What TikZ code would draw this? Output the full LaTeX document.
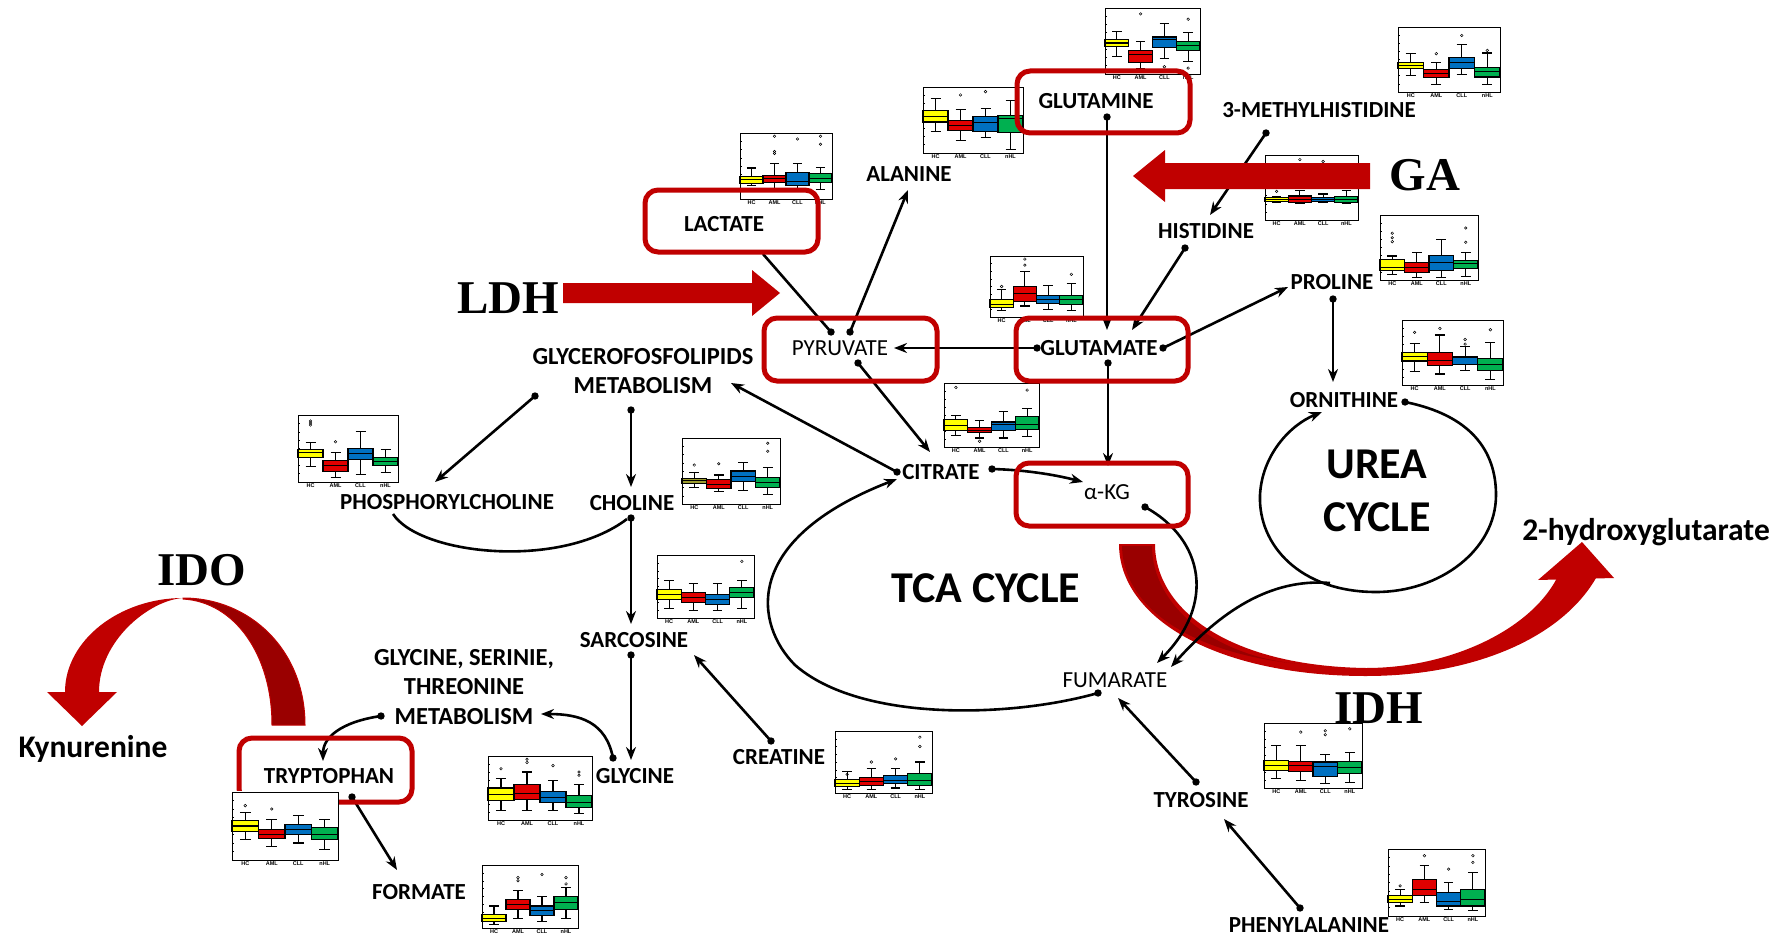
\documentclass[tikz,border=0pt]{standalone}
\usepackage{fontspec}
\setmainfont{Carlito}
\newfontfamily\enzfont{Liberation Serif}
\newfontfamily\plotfont{Liberation Sans}
\usetikzlibrary{arrows.meta}

\definecolor{boxred}{HTML}{C00000}
\definecolor{darkred}{HTML}{9A0000}
\definecolor{byel}{HTML}{FFFF00}
\definecolor{bolive}{HTML}{9C9C30}
\definecolor{bred}{HTML}{E00000}
\definecolor{bblue}{HTML}{0070C0}
\definecolor{bgreen}{HTML}{00B050}

\tikzset{
  lbl/.style={font=\fontsize{23}{29}\selectfont\bfseries, inner sep=0pt, align=center},
  lblm/.style={font=\fontsize{24.5}{29.5}\selectfont\bfseries, inner sep=0pt, align=center},
  lblreg/.style={font=\fontsize{23}{29}\selectfont, inner sep=0pt},
  enz/.style={font=\enzfont\fontsize{47}{50}\selectfont\bfseries, inner sep=0pt},
  cyc/.style={font=\fontsize{44}{53}\selectfont\bfseries, inner sep=0pt, align=center},
  prod/.style={font=\fontsize{31.5}{34}\selectfont\bfseries, inner sep=0pt},
  redbox/.style={draw=boxred, line width=5pt, rounded corners=13pt},
  conn/.style={line width=2.6pt, -{Stealth[length=13pt,width=10pt]}},
  bpframe/.style={line width=0.9pt},
  bpl/.style={line width=1.1pt},
  bplab/.style={font=\plotfont\fontsize{5.5}{6}\selectfont\bfseries, anchor=north, inner sep=0pt, yshift=-1.8pt},
}

% one box: slot, colour, low whisker, q1, median, q3, high whisker
\newcommand\bxp[7]{%
  \draw[bpl] (#1+0.5,#3) -- (#1+0.5,#4) (#1+0.5,#6) -- (#1+0.5,#7);
  \draw[bpl] (#1+0.3,#3) -- (#1+0.7,#3) (#1+0.3,#7) -- (#1+0.7,#7);
  \filldraw[bpl,fill=#2] (#1,#4) rectangle (#1+1,#6);
  \draw[bpl] (#1,#5) -- (#1+1,#5);}
% outlier mark
\newcommand\olr[2]{\draw[line width=0.5pt] (#1,#2) circle[radius=1.3pt];}
% box-plot panel: left, bottom, width, height, boxes
\newcommand\bplot[5]{%
  \pgfmathsetmacro\bpw{#3/4}%
  \begin{scope}[shift={(#1,#2)},x={\bpw pt},y={#4 pt}]
    \fill[white] (-0.15,-0.17) rectangle (4.03,1.02);
    \draw[bpframe] (0,0) rectangle (4,1);
    \foreach \t in {0.125,0.25,...,0.9} \draw[line width=0.5pt] (0,\t) -- (0.07,\t);
    #5
    \foreach \n [count=\i from 0] in {HC,AML,CLL,nHL} \node[bplab] at (\i+0.5,0) {\n};
  \end{scope}}
\newcommand\dotat[1]{\fill (#1) circle[radius=3.7pt];}

\begin{document}
\begin{tikzpicture}[x=1pt,y=-1pt]
\useasboundingbox (0,0) rectangle (1777,939);
\fill[white] (0,0) rectangle (1777,939);

% ---------- IDH ribbon ----------
\fill[boxred] (1119,544) .. controls (1119,620) and (1220,676) .. (1366,676)
  .. controls (1470,676) and (1560,640) .. (1596,578) -- (1557,578)
  .. controls (1530,630) and (1450,668) .. (1366,668)
  .. controls (1230,666) and (1155,610) .. (1155,544) -- cycle;
\fill[boxred] (1538,580) -- (1582,542) -- (1614,578) -- cycle;
\fill[darkred] (1122,546) .. controls (1123,612) and (1200,655) .. (1300,664)
  .. controls (1215,657) and (1152,606) .. (1152,546) -- cycle;

% ---------- IDO ribbon ----------
\fill[boxred] (65,692) .. controls (65,640) and (120,598) .. (183,598)
  .. controls (150,600) and (99,640) .. (99,692) -- cycle;
\fill[boxred] (47,692) -- (117,692) -- (82,726) -- cycle;
\filldraw[fill=darkred, draw=boxred, line width=1pt] (183,598) .. controls (250,598) and (305,650) .. (305,725)
  -- (272,725) .. controls (272,655) and (235,602) .. (183,599) -- cycle;

% ---------- connector end points ----------
\coordinate (glnS) at (1107,117);   \coordinate (gluN) at (1107,330);
\coordinate (mhisS) at (1266,133);  \coordinate (hisN) at (1210,215);
\coordinate (hisS) at (1185,248);   \coordinate (gluNE) at (1132,330);
\coordinate (gluE) at (1163,348);   \coordinate (proW) at (1288,287);
\coordinate (proS) at (1333,299);   \coordinate (ornN) at (1333,382);
\coordinate (gluW) at (1037,348);   \coordinate (pyrE) at (894,348);
\coordinate (gluS) at (1108,363);   \coordinate (akgN) at (1108,466);
\coordinate (pyrNE) at (850,332);   \coordinate (alaS) at (908,190);
\coordinate (pyrN) at (831,332);    \coordinate (lacS) at (763,254);
\coordinate (pyrS) at (858,363);    \coordinate (citN) at (930,452);
\coordinate (citE) at (992,469);    \coordinate (akgW) at (1083,482);
\coordinate (citW) at (897,472);    \coordinate (gplE) at (731,383);
\coordinate (gplSW) at (535,396);   \coordinate (pchN) at (435,482);
\coordinate (gplS) at (631,410);    \coordinate (choN) at (631,487);
\coordinate (pchS) at (393,514);    \coordinate (choSW) at (627,519);
\coordinate (choS) at (631,518);    \coordinate (sarN) at (631,624);
\coordinate (sarS) at (631,655);    \coordinate (glyN) at (631,760);
\coordinate (creN) at (771,741);    \coordinate (sarE) at (694,655);
\coordinate (glyW) at (613,758);    \coordinate (gstE) at (541,714);
\coordinate (gstW) at (381,716);    \coordinate (trpN) at (323,761);
\coordinate (trpS) at (352,797);    \coordinate (forN) at (397,870);
\coordinate (tyrN) at (1196,782);   \coordinate (fumS) at (1118,698);
\coordinate (pheN) at (1300,908);   \coordinate (tyrS) at (1224,819);
\coordinate (akgE) at (1145,507);   \coordinate (fumNE) at (1157,663);
\coordinate (fumW) at (1098,693);   \coordinate (citSW) at (897,479);
\coordinate (ornE) at (1405,402);   \coordinate (ornSW) at (1322,412);
\coordinate (ureaS) at (1330,583);  \coordinate (fumE) at (1171,667);

% ---------- connectors ----------
\draw[conn] (glnS) -- (gluN);
\draw[conn] (mhisS) -- (hisN);
\draw[conn] (hisS) -- (gluNE);
\draw[conn] (gluE) -- (proW);
\draw[conn] (proS) -- (ornN);
\draw[conn] (gluW) -- (pyrE);
\draw[conn] (gluS) -- (akgN);
\draw[conn] (pyrNE) -- (alaS);
\draw[line width=2.6pt] (pyrN) -- (lacS);
\draw[conn] (pyrS) -- (citN);
\draw[conn] (citE) .. controls (1030,470) and (1060,476) .. (akgW);
\draw[conn] (citW) -- (gplE);
\draw[conn] (gplSW) -- (pchN);
\draw[conn] (gplS) -- (choN);
\draw[line width=2.6pt] (pchS) .. controls (420,555) and (560,570) .. (choSW);
\draw[conn] (choS) -- (sarN);
\draw[conn] (sarS) -- (glyN);
\draw[conn] (creN) -- (sarE);
\draw[conn] (glyW) .. controls (606,722) and (580,714) .. (gstE);
\draw[conn] (gstW) .. controls (340,722) and (323,738) .. (trpN);
\draw[conn] (trpS) -- (forN);
\draw[conn] (tyrN) -- (fumS);
\draw[conn] (pheN) -- (tyrS);
% TCA cycle
\draw[conn] (akgE) .. controls (1205,540) and (1215,605) .. (fumNE);
\draw[conn] (fumW) .. controls (1010,718) and (860,722) .. (795,665)
  .. controls (755,625) and (740,540) .. (citSW);
% urea cycle
\draw[conn] (ornE) .. controls (1470,415) and (1496,450) .. (1496,495)
  .. controls (1496,550) and (1440,592) .. (1376,592)
  .. controls (1300,592) and (1258,545) .. (1260,495)
  .. controls (1262,455) and (1290,425) .. (ornSW);
\draw[conn] (ureaS) .. controls (1270,578) and (1220,612) .. (fumE);
% dots at the sources
\foreach \p in {glnS,mhisS,hisS,gluE,proS,gluW,gluS,pyrNE,pyrN,pyrS,citE,citW,gplSW,gplS,choS,sarS,creN,glyW,gstW,trpS,tyrN,pheN,akgE,fumW,ornE}
  {\dotat{\p}}

% ---------- box plots ----------
\bplot{1105}{74}{95}{66}{%
  \bxp0{byel}{.26}{.42}{.47}{.52}{.64}
  \bxp1{bred}{.09}{.17}{.29}{.35}{.49} \olr{1.5}{.91}
  \bxp2{bblue}{.24}{.40}{.52}{.56}{.76} \olr{2.5}{.11}
  \bxp3{bgreen}{.19}{.36}{.43}{.49}{.63} \olr{3.5}{.83}\olr{3.5}{.09}}
\bplot{1398}{92}{102}{65}{%
  \bxp0{byel}{.26}{.36}{.41}{.46}{.59}
  \bxp1{bred}{.11}{.22}{.29}{.34}{.46} \olr{1.5}{.59}
  \bxp2{bblue}{.27}{.36}{.45}{.53}{.73} \olr{2.5}{.87}
  \bxp3{bgreen}{.11}{.23}{.32}{.38}{.60} \olr{3.5}{.64}}
\bplot{923}{153}{100}{66}{%
  \bxp0{byel}{.32}{.47}{.55}{.64}{.83}
  \bxp1{bred}{.19}{.34}{.41}{.49}{.66} \olr{1.5}{.88}
  \bxp2{bblue}{.24}{.32}{.46}{.55}{.67} \olr{2.5}{.93}
  \bxp3{bgreen}{.05}{.31}{.52}{.57}{.80}}
\bplot{740}{199}{92}{66}{%
  \bxp0{byel}{.20}{.23}{.29}{.34}{.47}
  \bxp1{bred}{.13}{.25}{.31}{.36}{.54} \olr{1.5}{.95}\olr{1.5}{.72}\olr{1.5}{.69}
  \bxp2{bblue}{.14}{.20}{.27}{.40}{.54} \olr{2.5}{.91}
  \bxp3{bgreen}{.15}{.25}{.31}{.38}{.48} \olr{3.5}{.95}\olr{3.5}{.83}}
\bplot{1265}{220}{93}{65}{%
  \bxp0{byel}{.27}{.28}{.31}{.34}{.36} \olr{0.5}{.44}
  \bxp1{bred}{.26}{.27}{.32}{.37}{.45} \olr{1.5}{.93}
  \bxp2{bblue}{.27}{.28}{.32}{.34}{.40} \olr{2.5}{.90}
  \bxp3{bgreen}{.26}{.27}{.32}{.36}{.46}}
\bplot{1380}{280}{98}{65}{%
  \bxp0{byel}{.09}{.15}{.19}{.31}{.37} \olr{0.5}{.72}\olr{0.5}{.65}\olr{0.5}{.59}
  \bxp1{bred}{.04}{.12}{.19}{.27}{.42}
  \bxp2{bblue}{.04}{.14}{.27}{.38}{.62}
  \bxp3{bgreen}{.05}{.18}{.26}{.30}{.42} \olr{3.5}{.58}\olr{3.5}{.80}}
\bplot{1402}{385}{101}{65}{%
  \bxp0{byel}{.21}{.37}{.44}{.50}{.64} \olr{0.5}{.81}
  \bxp1{bred}{.17}{.30}{.38}{.50}{.77} \olr{1.5}{.87}
  \bxp2{bblue}{.23}{.32}{.43}{.44}{.59} \olr{2.5}{.70}\olr{2.5}{.63}
  \bxp3{bgreen}{.08}{.23}{.31}{.41}{.66} \olr{3.5}{.85}}
\bplot{990}{317}{93}{61}{%
  \bxp0{byel}{.10}{.15}{.20}{.28}{.45} \olr{0.5}{.50}
  \bxp1{bred}{.18}{.25}{.38}{.50}{.75} \olr{1.5}{.85}\olr{1.5}{.95}
  \bxp2{bblue}{.12}{.22}{.28}{.35}{.52}
  \bxp3{bgreen}{.10}{.20}{.28}{.35}{.55} \olr{3.5}{.70}}
\bplot{944}{447}{95}{64}{%
  \bxp0{byel}{.18}{.26}{.34}{.43}{.49} \olr{0.5}{.93}
  \bxp1{bred}{.14}{.22}{.26}{.30}{.41} \olr{1.5}{.09}
  \bxp2{bblue}{.14}{.26}{.35}{.39}{.56}
  \bxp3{bgreen}{.16}{.27}{.35}{.47}{.60} \olr{3.5}{.89}}
\bplot{298}{482}{100}{67}{%
  \bxp0{byel}{.23}{.37}{.44}{.49}{.59} \olr{0.5}{.85}\olr{0.5}{.88}\olr{0.5}{.91}
  \bxp1{bred}{.07}{.16}{.24}{.32}{.44} \olr{1.5}{.60}
  \bxp2{bblue}{.11}{.33}{.42}{.50}{.75}
  \bxp3{bgreen}{.14}{.24}{.30}{.36}{.49}}
\bplot{682}{504}{98}{66}{%
  \bxp0{bolive}{.25}{.31}{.35}{.39}{.48} \olr{0.5}{.59}
  \bxp1{bred}{.19}{.24}{.30}{.37}{.44} \olr{1.5}{.61}
  \bxp2{bblue}{.20}{.34}{.42}{.50}{.63}
  \bxp3{bgreen}{.15}{.25}{.32}{.40}{.55} \olr{3.5}{.80}\olr{3.5}{.92}}
\bplot{657}{618}{97}{63}{%
  \bxp0{byel}{.15}{.30}{.38}{.45}{.60}
  \bxp1{bred}{.12}{.25}{.32}{.40}{.55}
  \bxp2{bblue}{.12}{.22}{.30}{.38}{.55}
  \bxp3{bgreen}{.15}{.32}{.40}{.48}{.60} \olr{3.5}{.90}}
\bplot{488}{820}{104}{64}{%
  \bxp0{byel}{.15}{.30}{.40}{.50}{.65} \olr{0.5}{.80}
  \bxp1{bred}{.15}{.32}{.42}{.55}{.75} \olr{1.5}{.90}\olr{1.5}{.95}
  \bxp2{bblue}{.15}{.28}{.35}{.45}{.62} \olr{2.5}{.85}
  \bxp3{bgreen}{.10}{.20}{.28}{.38}{.55} \olr{3.5}{.75}\olr{3.5}{.70}}
\bplot{835}{793}{97}{62}{%
  \bxp0{byel}{.05}{.10}{.15}{.22}{.35} \olr{0.5}{.30}
  \bxp1{bred}{.05}{.12}{.18}{.25}{.40} \olr{1.5}{.50}
  \bxp2{bblue}{.08}{.15}{.20}{.28}{.40} \olr{2.5}{.55}
  \bxp3{bgreen}{.05}{.12}{.20}{.32}{.50} \olr{3.5}{.75}\olr{3.5}{.90}}
\bplot{482}{928}{96}{63}{%
  \bxp0{byel}{.05}{.10}{.15}{.22}{.35}
  \bxp1{bred}{.15}{.30}{.38}{.45}{.60} \olr{1.5}{.75}\olr{1.5}{.80}
  \bxp2{bblue}{.10}{.20}{.28}{.35}{.50} \olr{2.5}{.85}
  \bxp3{bgreen}{.15}{.30}{.40}{.50}{.65} \olr{3.5}{.70}\olr{3.5}{.80}}
\bplot{1264}{788}{98}{65}{%
  \bxp0{byel}{.14}{.27}{.35}{.42}{.66}
  \bxp1{bred}{.12}{.26}{.35}{.41}{.65} \olr{1.5}{.86}
  \bxp2{bblue}{.07}{.18}{.33}{.40}{.51} \olr{2.5}{.88}\olr{2.5}{.82}
  \bxp3{bgreen}{.09}{.23}{.32}{.41}{.55} \olr{3.5}{.91}}
\bplot{1388}{916}{97}{67}{%
  \bxp0{byel}{.15}{.20}{.25}{.30}{.40} \olr{0.5}{.45}
  \bxp1{bred}{.20}{.30}{.40}{.55}{.75} \olr{1.5}{.90}
  \bxp2{bblue}{.10}{.15}{.22}{.35}{.50} \olr{2.5}{.70}
  \bxp3{bgreen}{.08}{.15}{.25}{.40}{.65} \olr{3.5}{.80}\olr{3.5}{.90}}

% ---------- highlighted metabolites ----------
\draw[redbox] (1017,71) rectangle (1190,133);
\draw[redbox] (645,190) rectangle (818,252);
\draw[redbox] (764,318) rectangle (937,381);
\draw[redbox] (1016,318) rectangle (1188,381);
\draw[redbox] (1016,463) rectangle (1188,526);
\draw[redbox] (239,738) rectangle (412,802);

% tryptophan panel sits over its frame
\bplot{232}{860}{106}{68}{%
  \bxp0{byel}{.30}{.42}{.50}{.58}{.70} \olr{0.5}{.80}
  \bxp1{bred}{.20}{.32}{.38}{.45}{.60} \olr{1.5}{.75}
  \bxp2{bblue}{.25}{.38}{.45}{.52}{.65}
  \bxp3{bgreen}{.15}{.30}{.38}{.48}{.60}}

% ---------- enzyme arrows ----------
\fill[boxred] (1370,163) -- (1165,163) -- (1165,150) -- (1133,176) -- (1165,202) -- (1165,189) -- (1370,189) -- cycle;
\fill[boxred] (563,283) -- (752,283) -- (752,270) -- (780,293) -- (752,316) -- (752,303) -- (563,303) -- cycle;

% ---------- labels ----------
\node[lbl, anchor=base] (glutamine) at (1096,109) {GLUTAMINE};
\node[lbl, anchor=base] (mhis) at (1319,118) {3-METHYLHISTIDINE};
\node[lbl, anchor=base] (alanine) at (909,181) {ALANINE};
\node[lbl, anchor=base] (lactate) at (724,231) {LACTATE};
\node[lbl, anchor=base] (histidine) at (1206,238) {HISTIDINE};
\node[lbl, anchor=base] (proline) at (1332,289) {PROLINE};
\node[lblreg, anchor=base] (pyruvate) at (840,355) {PYRUVATE};
\node[lbl, anchor=base] (glutamate) at (1099,355) {GLUTAMATE};
\node[lblm] (gpl) at (643,371) {GLYCEROFOSFOLIPIDS\\METABOLISM};
\node[lbl, anchor=base] (ornithine) at (1344,407) {ORNITHINE};
\node[lbl, anchor=base] (citrate) at (941,479) {CITRATE};
\node[lblreg, anchor=base] (akg) at (1107,499) {α-KG};
\node[lbl, anchor=base] (pchol) at (447,509) {PHOSPHORYLCHOLINE};
\node[lbl, anchor=base] (choline) at (632,510) {CHOLINE};
\node[lbl, anchor=base] (sarcosine) at (634,647) {SARCOSINE};
\node[lblm] (gst) at (464,687) {GLYCINE, SERINIE,\\THREONINE\\METABOLISM};
\node[lblreg, anchor=base] (fumarate) at (1115,687) {FUMARATE};
\node[lbl, anchor=base] (creatine) at (779,764) {CREATINE};
\node[lbl, anchor=base] (trp) at (329,783) {TRYPTOPHAN};
\node[lbl, anchor=base] (glycine) at (635,783) {GLYCINE};
\node[lbl, anchor=base] (tyrosine) at (1201,807) {TYROSINE};
\node[lbl, anchor=base] (formate) at (419,899) {FORMATE};
\node[lbl, anchor=base] (phe) at (1309,932) {PHENYLALANINE};
\node[prod, anchor=base] (kyn) at (93,757) {Kynurenine};
\node[prod, anchor=base] (hg) at (1646,540) {2-hydroxyglutarate};
\node[cyc, anchor=base] (tca) at (986,602) {TCA CYCLE};
\node[cyc] (urea) at (1377,491) {UREA\\CYCLE};
\node[enz, anchor=base] (ldh) at (508,313) {LDH};
\node[enz, anchor=base] (ga) at (1425,190) {GA};
\node[enz, anchor=base] (ido) at (202,585) {IDO};
\node[enz, anchor=base] (idh) at (1379,723) {IDH};
\end{tikzpicture}
\end{document}
